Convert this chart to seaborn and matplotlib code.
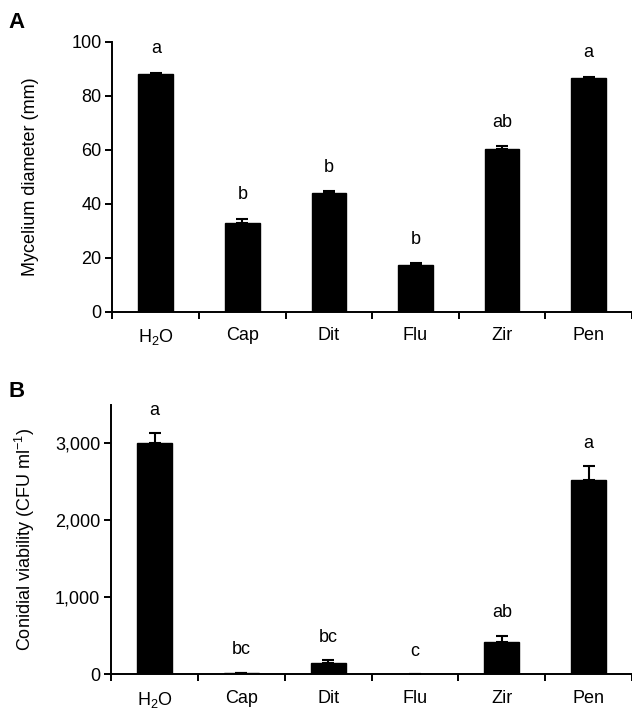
import matplotlib
matplotlib.use('Agg')
import matplotlib.pyplot as plt
from matplotlib.ticker import FixedLocator, StrMethodFormatter
import seaborn as sns
import pandas as pd
import numpy as np

# data
treatments = ['H$_2$O', 'Cap', 'Dit', 'Flu', 'Zir', 'Pen']
diameter = [88.0, 33.0, 44.0, 17.5, 60.5, 86.5]
diameter_err = [0.5, 1.3, 0.6, 0.5, 0.8, 0.5]
diameter_letters = ['a', 'b', 'b', 'b', 'ab', 'a']
viability = [3000, 15, 140, 0, 420, 2530]
viability_err = [130, 5, 40, 0, 80, 170]
viability_letters = ['a', 'bc', 'bc', 'c', 'ab', 'a']

sns.set_style('ticks')
plt.rcParams['font.family'] = ['Liberation Sans', 'DejaVu Sans']
plt.rcParams['mathtext.default'] = 'regular'
plt.rcParams['axes.linewidth'] = 1.4
for k in ['text.color', 'axes.edgecolor', 'axes.labelcolor', 'xtick.color', 'ytick.color']:
	plt.rcParams[k] = 'black'


def panel(ax, values, errs, letters, ylim, yticks, ylabel, offset, fmt):
	df = pd.DataFrame({'treatment': treatments, 'value': values})
	sns.barplot(ax=ax, data=df, x='treatment', y='value', order=treatments,
				color='black', saturation=1, width=0.4, errorbar=None,
				edgecolor='black', linewidth=1)
	pos = np.arange(len(treatments))
	ax.errorbar(pos, values, yerr=[np.zeros(len(errs)), errs], fmt='none',
				ecolor='black', elinewidth=1.5, capsize=4.3, capthick=1.5)
	for x, v, e, lab in zip(pos, values, errs, letters):
		ax.text(x, v + e + offset, lab, ha='center', va='center', fontsize=13)
	ax.set_xlim(-0.5, len(treatments) - 0.5)
	ax.set_ylim(*ylim)
	ax.set_yticks(yticks)
	ax.yaxis.set_major_formatter(StrMethodFormatter(fmt))
	ax.xaxis.set_minor_locator(FixedLocator(np.arange(-0.5, len(treatments), 1.0)))
	ax.tick_params(axis='x', which='major', length=0, labelsize=13, pad=11)
	ax.tick_params(axis='x', which='minor', length=5, width=1.4, direction='out')
	ax.tick_params(axis='y', length=5, width=1.4, direction='out', labelsize=13, pad=3)
	ax.set_xlabel('')
	ax.set_ylabel(ylabel, fontsize=13)
	ax.yaxis.set_label_coords(-0.142, 0.5)
	sns.despine(ax=ax)
	ax.spines['bottom'].set_clip_on(False)


fig = plt.figure(figsize=(6.32, 7.09), dpi=100)
ax_a = fig.add_axes([0.178, 0.56, 0.822, 0.381])
ax_b = fig.add_axes([0.176, 0.049, 0.824, 0.38])

panel(ax_a, diameter, diameter_err, diameter_letters, (0, 100), [0, 20, 40, 60, 80, 100],
	  'Mycelium diameter (mm)', 9, '{x:.0f}')
panel(ax_b, viability, viability_err, viability_letters, (0, 3500), [0, 1000, 2000, 3000],
	  'Conidial viability (CFU ml$^{-1}$)', 300, '{x:,.0f}')

fig.text(0.014, 0.968, 'A', fontsize=16, fontweight='bold', va='center')
fig.text(0.014, 0.448, 'B', fontsize=16, fontweight='bold', va='center')

fig.savefig('out.png', dpi=100)
